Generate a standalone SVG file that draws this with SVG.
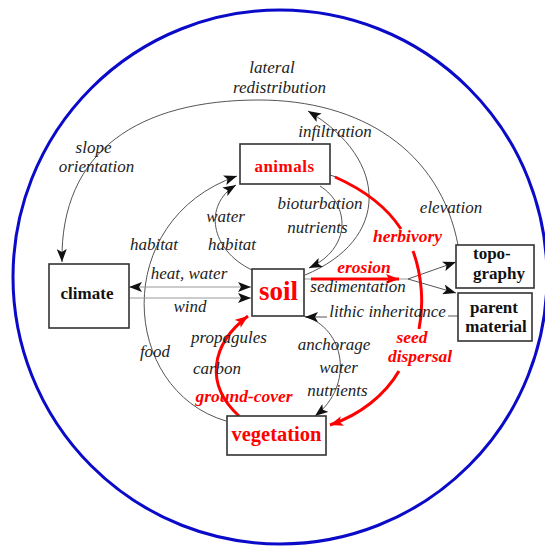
<svg xmlns="http://www.w3.org/2000/svg" width="545" height="551" viewBox="0 0 545 551">
<style>
.box{fill:#fff;stroke:#333;stroke-width:1.6}
.lab{font-family:"Liberation Serif",serif;font-style:italic;font-size:17px;fill:#222;text-anchor:middle}
.red{font-family:"Liberation Serif",serif;font-style:italic;font-weight:bold;font-size:17.5px;fill:#f00;text-anchor:middle}
.node{font-family:"Liberation Serif",serif;font-weight:bold;font-size:17px;fill:#111;text-anchor:middle}
.rnode{font-family:"Liberation Serif",serif;font-weight:bold;fill:#f00;text-anchor:middle}
.c{fill:none;stroke:#555;stroke-width:1}
.cl{fill:none;stroke:#999;stroke-width:1.2}
.r{fill:none;stroke:#f00;stroke-width:3}
</style>
<defs>
<marker id="ah" markerUnits="userSpaceOnUse" markerWidth="14" markerHeight="10" refX="13" refY="5" orient="auto-start-reverse" viewBox="0 0 14 10">
<path d="M0,0 L13,5 L0,10 L3,5 z" fill="#111"/>
</marker>
<marker id="rh" markerUnits="userSpaceOnUse" markerWidth="14" markerHeight="10" refX="13" refY="5" orient="auto" viewBox="0 0 14 10">
<path d="M0,0 L13,5 L0,10 L3,5 z" fill="#f00"/>
</marker>
</defs>
<rect width="545" height="551" fill="#fff"/>
<circle cx="280" cy="277" r="267" fill="none" stroke="#0a0ac8" stroke-width="3"/>

<g id="connectors">
<path class="c" d="M458,245 C440,150 360,100 259,100 C140,100 60,150 62,262" marker-end="url(#ah)"/>
<path class="c" d="M305,275 C390,240 390,160 308,111" marker-end="url(#ah)"/>
<path class="c" d="M320,186 C350,205 352,248 309,268" marker-end="url(#ah)"/>
<path class="c" d="M252,270 C210,250 203,205 236,185" marker-end="url(#ah)"/>
<path class="c" d="M226,421 C120,390 110,220 237,176" marker-end="url(#ah)"/>
<path class="c" d="M304,316 C345,328 355,385 315,416" marker-end="url(#ah)"/>
<line class="cl" x1="129" y1="287" x2="251" y2="287" marker-start="url(#ah)" marker-end="url(#ah)"/>
<line class="cl" x1="130" y1="298" x2="251" y2="298" marker-end="url(#ah)"/>
<line class="c" x1="327" y1="317" x2="305" y2="317" marker-end="url(#ah)"/>
<line class="c" x1="448" y1="316" x2="458" y2="316"/>
<line class="cl" x1="304" y1="279" x2="408" y2="279"/>
<line class="c" x1="408" y1="279" x2="456" y2="262" marker-end="url(#ah)"/>
<line class="c" x1="408" y1="279" x2="456" y2="293" marker-end="url(#ah)"/>
<line class="r" x1="311" y1="279" x2="399" y2="279" marker-end="url(#rh)"/>
<line class="c" x1="330" y1="175" x2="336" y2="177"/>
<path class="r" d="M335,177 C362,189 386,206 401,229"/>
<path class="r" d="M413,251 C422,275 424,305 419,329"/>
<path class="r" d="M399,371 C385,395 360,415 330,425" marker-end="url(#rh)"/>
<path class="r" d="M239,416 C205,385 210,345 248,316" marker-end="url(#rh)"/>
</g>

<g id="labels">
<text class="lab" x="272" y="73">lateral</text>
<text class="lab" x="279.5" y="93">redistribution</text>
<text class="lab" x="93.5" y="153">slope</text>
<text class="lab" x="96.5" y="172">orientation</text>
<text class="lab" x="335" y="137">infiltration</text>
<text class="lab" x="451" y="213">elevation</text>
<text class="lab" x="320" y="209">bioturbation</text>
<text class="lab" x="317.5" y="233">nutrients</text>
<text class="lab" x="225.5" y="222">water</text>
<text class="lab" x="232" y="250">habitat</text>
<text class="lab" x="154" y="250">habitat</text>
<text class="lab" x="189" y="279">heat, water</text>
<text class="lab" x="190" y="312">wind</text>
<text class="red" x="407.5" y="242">herbivory</text>
<text class="red" x="364" y="273">erosion</text>
<text class="lab" x="358" y="292">sedimentation</text>
<text class="lab" x="387.5" y="317">lithic inheritance</text>
<text class="red" x="412" y="343" font-size="17">seed</text>
<text class="red" x="420" y="362" font-size="17">dispersal</text>
<text class="lab" x="229" y="343">propagules</text>
<text class="lab" x="217" y="374">carbon</text>
<text class="red" x="244" y="402">ground-cover</text>
<text class="lab" x="155" y="357">food</text>
<text class="lab" x="334" y="350">anchorage</text>
<text class="lab" x="338.5" y="373">water</text>
<text class="lab" x="337.5" y="396">nutrients</text>
</g>

<g id="climate">
<rect class="box" x="49" y="264" width="80" height="64"/>
<text class="node" x="87" y="299">climate</text>
</g>
<g id="animals">
<rect class="box" x="240" y="144" width="90" height="40"/>
<text class="rnode" x="284.5" y="172" font-size="17" letter-spacing="0.5">animals</text>
</g>
<g id="soil">
<rect class="box" x="252" y="269" width="52" height="47"/>
<text class="rnode" x="278.5" y="300" font-size="27">soil</text>
</g>
<g id="vegetation">
<rect class="box" x="227" y="416" width="99" height="39"/>
<text class="rnode" x="276.5" y="441" font-size="20.5">vegetation</text>
</g>
<g id="topography">
<rect class="box" x="456" y="245" width="78" height="43"/>
<text class="node" x="473" y="259" style="text-anchor:start">topo-</text>
<text class="node" x="473" y="279" style="text-anchor:start">graphy</text>
</g>
<g id="parent_material">
<rect class="box" x="458" y="293" width="74" height="48"/>
<text class="node" x="494" y="313">parent</text>
<text class="node" x="496" y="332">material</text>
</g>
</svg>
